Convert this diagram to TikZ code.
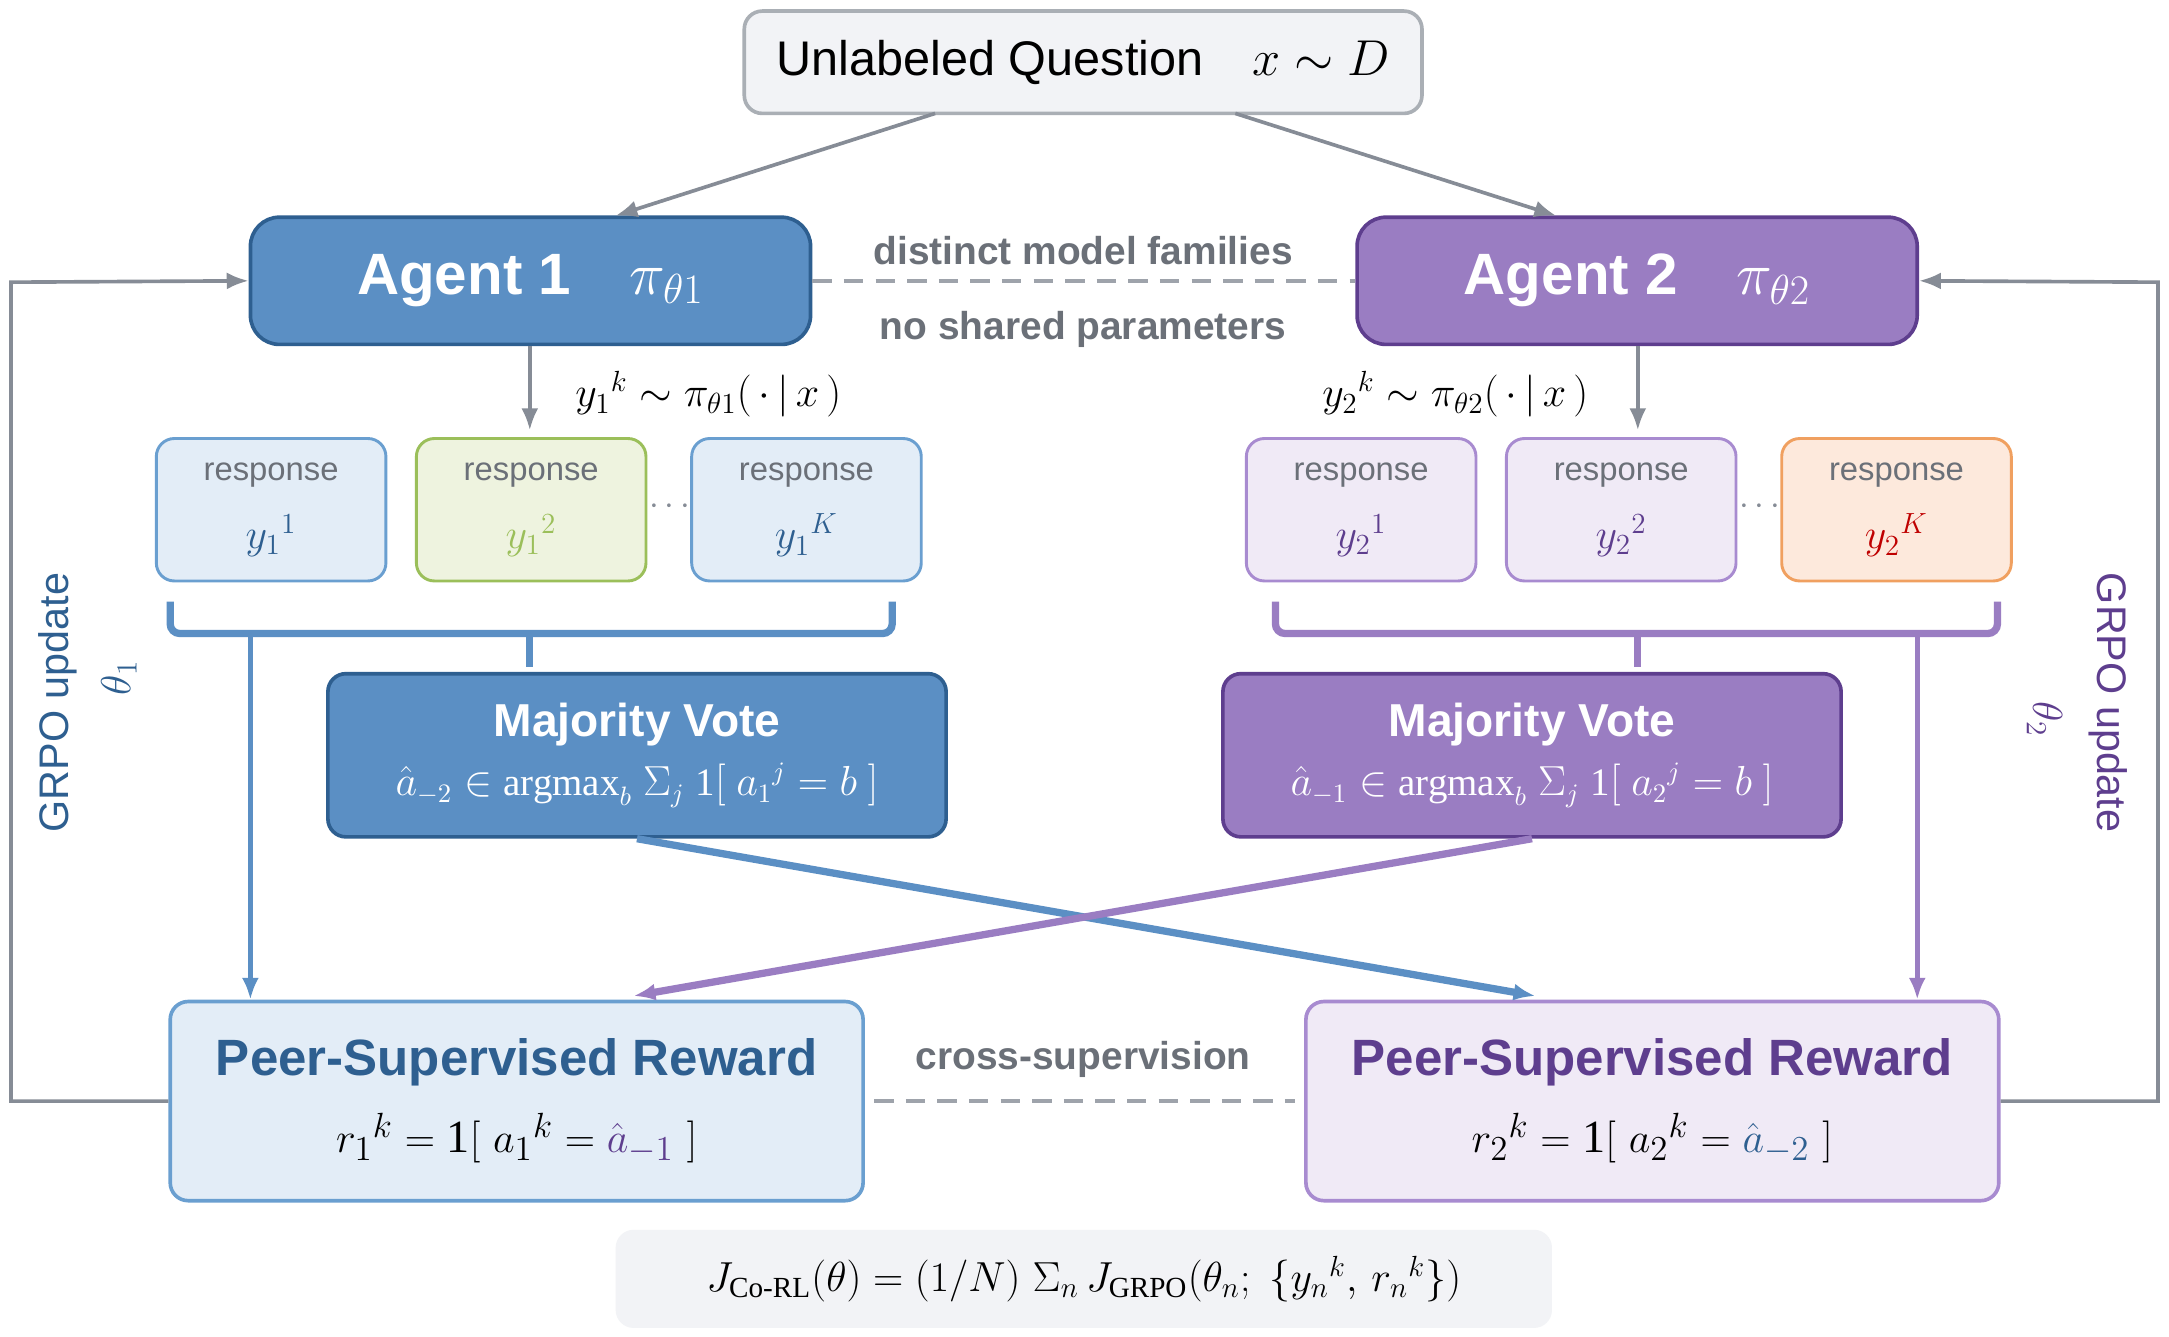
\documentclass[tikz,border=0pt]{standalone}
\usepackage{fontspec}
\setmainfont{Liberation Sans}
\newfontfamily\serif{Liberation Serif}
\usetikzlibrary{arrows.meta}
\definecolor{bA}{HTML}{5B8FC4}\definecolor{bAd}{HTML}{2E5F90}
\definecolor{pA}{HTML}{9A7DC2}\definecolor{pAd}{HTML}{5E3E8E}
\definecolor{bL}{HTML}{E3EDF7}\definecolor{bLb}{HTML}{6A9FD0}
\definecolor{pL}{HTML}{F0EAF6}\definecolor{pLb}{HTML}{A88BD0}
\definecolor{gL}{HTML}{EEF3DF}\definecolor{gLb}{HTML}{9BBF5A}
\definecolor{oL}{HTML}{FDE9DC}\definecolor{oLb}{HTML}{F0A060}
\definecolor{gr}{HTML}{868C96}\definecolor{grT}{HTML}{6B7078}
\definecolor{bgL}{HTML}{F2F3F6}
\newcommand{\fs}[1]{\fontsize{#1}{#1}\selectfont}
\newcommand{\sr}[1]{\mbox{\serif #1}}
\newcommand{\ssr}[1]{\mbox{\serif\fs{12}#1}}
\begin{document}
\begin{tikzpicture}[x=0.02cm,y=-0.02cm,
 box/.style={rounded corners=0.26cm,line width=1.5pt,align=center,inner sep=0},
 agent/.style={box,rounded corners=0.42cm,minimum width=8.1cm,minimum height=1.84cm,text=white,font=\fs{24}\bfseries},
 resp/.style={box,line width=1.2pt,minimum width=3.32cm,minimum height=2.06cm,font=\fs{13.5}},
 mv/.style={box,minimum width=8.94cm,minimum height=2.36cm,text=white},
 rw/.style={box,minimum width=10.02cm,minimum height=2.88cm},
 arr/.style={-{Latex[length=9pt,width=7pt]},line width=2pt},
 garr/.style={arr,gr,line width=1.5pt}]
\useasboundingbox (0,0) rectangle (1568,966);
\fill[white] (0,0) rectangle (1568,966);
% top
\node[box,fill=bgL,draw=gr!70,minimum width=9.8cm,minimum height=1.48cm,font=\fs{20}] (top) at (783,45) {Unlabeled Question\quad $x\sim D$};
\node[agent,fill=bA,draw=bAd] (a1) at (383.5,203) {Agent 1\quad $\pi_{\theta 1}$};
\node[agent,fill=pA,draw=pAd] (a2) at (1183.5,203) {Agent 2\quad $\pi_{\theta 2}$};
\draw[garr] (676,82) -- (445,156);
\draw[garr] (893,82) -- (1125,156);
\draw[gr!80,line width=1.5pt,dash pattern=on 8pt off 5pt] (a1.east) -- (a2.west);
\node[text=grT,font=\fs{16}\bfseries] (dm) at (783,181) {distinct model families};
\node[text=grT,font=\fs{16}\bfseries] (ns) at (783,238) {no shared parameters};
% responses
\coordinate (d1) at (383,311); \coordinate (d2) at (1184,311);
\draw[garr] (a1.south-|d1) -- (d1);
\draw[garr] (a2.south-|d2) -- (d2);
\node[font=\fs{17}] (l1) at (512,285) {$y_1{}^k\sim\pi_{\theta 1}(\,\cdot\,|\,x\,)$};
\node[font=\fs{17}] (l2) at (1052,285) {$y_2{}^k\sim\pi_{\theta 2}(\,\cdot\,|\,x\,)$};
\node[resp,fill=bL,draw=bLb] (r11) at (196,368.5) {\textcolor{grT}{response}\\[10pt]\textcolor{bAd}{\fs{18}$y_1{}^1$}};
\node[resp,fill=gL,draw=gLb] (r12) at (384,368.5) {\textcolor{grT}{response}\\[10pt]\textcolor{gLb}{\fs{18}$y_1{}^2$}};
\node[resp,fill=bL,draw=bLb] (r13) at (583,368.5) {\textcolor{grT}{response}\\[10pt]\textcolor{bAd}{\fs{18}$y_1{}^K$}};
\node[resp,fill=pL,draw=pLb] (r21) at (984,368.5) {\textcolor{grT}{response}\\[10pt]\textcolor{pAd}{\fs{18}$y_2{}^1$}};
\node[resp,fill=pL,draw=pLb] (r22) at (1172,368.5) {\textcolor{grT}{response}\\[10pt]\textcolor{pAd}{\fs{18}$y_2{}^2$}};
\node[resp,fill=oL,draw=oLb] (r23) at (1371,368.5) {\textcolor{grT}{response}\\[10pt]\textcolor{red!75!black}{\fs{18}$y_2{}^K$}};
\node[text=gr,font=\fs{14}] (dt1) at (484,366) {$\cdots$};
\node[text=gr,font=\fs{14}] (dt2) at (1272,366) {$\cdots$};
% braces
\draw[bA,line width=3pt,rounded corners=4pt] (123,435) -- (123,458) -- (645,458) -- (645,435);
\draw[bA,line width=3pt] (383,458) -- (383,482);
\draw[pA,line width=3pt,rounded corners=4pt] (922,435) -- (922,458) -- (1444,458) -- (1444,435);
\draw[pA,line width=3pt] (1184,458) -- (1184,482);
% majority
\node[mv,fill=bA,draw=bAd] (m1) at (460.5,546) {{\fs{19}\bfseries Majority Vote}\\[6pt]{\fs{16}$\hat a_{-2}\in\sr{argmax}_b\ \Sigma_j\ \sr{1}[\ a_1{}^j=b\ ]$}};
\node[mv,fill=pA,draw=pAd] (m2) at (1107.5,546) {{\fs{19}\bfseries Majority Vote}\\[6pt]{\fs{16}$\hat a_{-1}\in\sr{argmax}_b\ \Sigma_j\ \sr{1}[\ a_2{}^j=b\ ]$}};
% rewards
\node[rw,fill=bL,draw=bLb] (w1) at (373.5,796) {{\fs{21}\bfseries\color{bAd}Peer-Supervised Reward}\\[10pt]{\fs{19}$r_1{}^k=\sr{1}[\ a_1{}^k=\textcolor{pAd}{\hat a_{-1}}\ ]$}};
\node[rw,fill=pL,draw=pLb] (w2) at (1194.5,796) {{\fs{21}\bfseries\color{pAd}Peer-Supervised Reward}\\[10pt]{\fs{19}$r_2{}^k=\sr{1}[\ a_2{}^k=\textcolor{bAd}{\hat a_{-2}}\ ]$}};
\draw[arr,bA] (181,458) -- (w1.north-|181,0);
\draw[arr,pA] (1386,458) -- (w2.north-|1386,0);
\draw[arr,bA,line width=3pt] (m1.south) -- (1110,720);
\draw[arr,pA,line width=3pt] (m2.south) -- (458,720);
\draw[gr!80,line width=1.5pt,dash pattern=on 8pt off 5pt] (632,796) -- (936,796);
\node[text=grT,font=\fs{16}\bfseries] (cs) at (783,766) {cross-supervision};
% feedback
\draw[garr] (w1.west) -- (8,796) -- (8,204) -- (a1.west);
\draw[garr] (w2.east) -- (1560,796) -- (1560,204) -- (a2.east);
\node[rotate=90,text=bAd,font=\fs{17}] (g1) at (42,508) {GRPO update};
\node[rotate=90,text=bAd,font=\fs{17}] (t1) at (86,490) {$\theta_1$};
\node[rotate=-90,text=pAd,font=\fs{17}] (g2) at (1524,508) {GRPO update};
\node[rotate=-90,text=pAd,font=\fs{17}] (t2) at (1478,520) {$\theta_2$};
% bottom
\node[box,fill=bgL,minimum width=13.54cm,minimum height=1.42cm,font=\fs{18}] (obj) at (783.5,924.5) {$J_{\ssr{Co-RL}}(\theta)=(1/N)\ \Sigma_n\, J_{\ssr{GRPO}}(\theta_n;\ \{y_n{}^k,\,r_n{}^k\})$};
\end{tikzpicture}
\end{document}
